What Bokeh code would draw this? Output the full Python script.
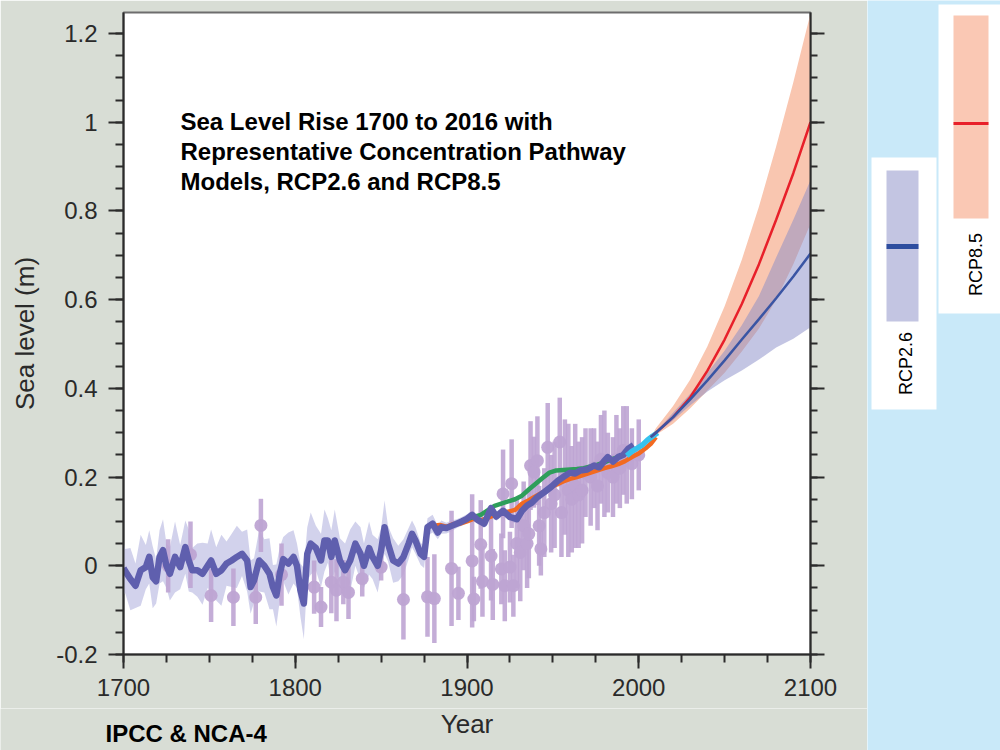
import numpy as np
from bokeh.plotting import figure
from bokeh.layouts import row, column
from bokeh.models import Range1d, LinearAxis, FixedTicker, Label
from bokeh.embed import file_html
from bokeh.resources import INLINE
from bokeh.core.properties import value

# ---------------- data ----------------
x_ticks = [1700, 1800, 1900, 2000, 2100]
y_ticks = [-0.2, 0.0, 0.2, 0.4, 0.6, 0.8, 1.0, 1.2]
y_tick_labels = ["-0.2", "0", "0.2", "0.4", "0.6", "0.8", "1", "1.2"]

recon_years = [1700, 1701, 1704, 1707, 1710, 1713, 1715, 1717, 1719, 1721,
               1723, 1725, 1727, 1730, 1733, 1736, 1738, 1740, 1743, 1746,
               1749, 1751, 1754, 1757, 1760, 1763, 1766, 1769, 1772, 1774,
               1776, 1779, 1782, 1785, 1787, 1789, 1791, 1793, 1796, 1799,
               1801, 1803, 1805, 1807, 1809, 1812, 1815, 1817, 1819, 1821,
               1823, 1826, 1829, 1832, 1835, 1838, 1840, 1843, 1845, 1848,
               1850, 1852, 1854, 1857, 1860, 1863, 1866, 1868, 1870, 1873,
               1875, 1877, 1880, 1883, 1885, 1888, 1891, 1894, 1897, 1900,
               1903, 1906, 1910, 1914, 1917, 1921, 1925, 1929, 1932, 1935,
               1938, 1941, 1945, 1949, 1953, 1956, 1960, 1963, 1966, 1970,
               1974, 1977, 1980, 1982, 1985, 1988, 1991, 1994, 1997]
recon_vals = [-0.005, -0.012, -0.03, -0.045, -0.01, -0.003, 0.02, -0.026, -0.035, 0.02,
              0.035, 0.0, -0.018, 0.02, -0.003, 0.042, 0.012, -0.01, -0.01, -0.018,
              0.0, 0.012, -0.018, -0.01, 0.005, 0.012, 0.02, 0.027, 0.012, -0.048,
              -0.033, 0.012, 0.0, -0.018, -0.048, -0.067, -0.018, 0.015, 0.005, 0.02,
              0.0, -0.055, -0.085, 0.027, 0.05, 0.04, 0.012, 0.057, 0.057, 0.02,
              0.057, 0.012, -0.01, 0.012, 0.05, 0.027, 0.0, 0.04, 0.02, 0.0,
              0.035, 0.087, 0.05, 0.012, 0.005, 0.02, 0.05, 0.072, 0.057, 0.027,
              0.02, 0.087, 0.095, 0.075, 0.087, 0.085, 0.09, 0.095, 0.1, 0.106,
              0.115, 0.104, 0.095, 0.13, 0.111, 0.124, 0.11, 0.105, 0.124, 0.136,
              0.143, 0.155, 0.166, 0.178, 0.192, 0.2, 0.21, 0.208, 0.215, 0.217,
              0.226, 0.222, 0.237, 0.245, 0.235, 0.245, 0.25, 0.264, 0.272]
recon_err = [0.06, 0.05, 0.07, 0.05, 0.08, 0.05, 0.06, 0.07, 0.05, 0.06,
             0.07, 0.05, 0.06, 0.08, 0.05, 0.06, 0.07, 0.05, 0.06, 0.07,
             0.05, 0.07, 0.06, 0.08, 0.05, 0.06, 0.07, 0.05, 0.07, 0.06,
             0.05, 0.07, 0.06, 0.08, 0.05, 0.07, 0.06, 0.05, 0.07, 0.06,
             0.05, 0.06, 0.08, 0.06, 0.07, 0.05, 0.06, 0.07, 0.05, 0.06,
             0.07, 0.05, 0.06, 0.07, 0.05, 0.06, 0.05, 0.06, 0.05, 0.06,
             0.05, 0.06, 0.04, 0.05, 0.04, 0.04, 0.035, 0.03, 0.03, 0.025,
             0.025, 0.02, 0.02, 0.015, 0.015, 0.012, 0.012, 0.01, 0.01, 0.01,
             0.01, 0.01, 0.01, 0.01, 0.01, 0.01, 0.01, 0.01, 0.01, 0.01,
             0.01, 0.01, 0.01, 0.01, 0.01, 0.01, 0.01, 0.01, 0.01, 0.01,
             0.01, 0.01, 0.01, 0.01, 0.01, 0.01, 0.01, 0.01, 0.01]

gauge_years = [1726, 1739, 1751, 1764, 1777, 1780, 1792, 1811, 1815, 1821,
               1824, 1828, 1831, 1839, 1850, 1863, 1877, 1881, 1891, 1895,
               1903, 1904, 1908, 1909, 1914, 1915, 1921, 1920, 1922, 1926,
               1925, 1927, 1929, 1931, 1933, 1935, 1937, 1936, 1939, 1941,
               1942, 1943, 1945, 1947, 1949, 1951, 1954, 1955, 1957, 1959,
               1961, 1963, 1965, 1967, 1969, 1972, 1974, 1976, 1978, 1980,
               1982, 1985, 1987, 1989, 1991, 1993, 1996, 2000]
gauge_vals = [0.0, 0.025, -0.067, -0.071, -0.071, 0.091, -0.02, -0.048, -0.093, -0.037,
              -0.055, -0.037, -0.06, -0.029, -0.003, -0.076, -0.07, -0.074, -0.006, -0.062,
              0.011, -0.075, 0.048, -0.035, 0.022, -0.042, 0.162, -0.007, -0.045, 0.185,
              -0.003, -0.045, 0.05, 0.03, 0.09, 0.05, 0.226, 0.072, 0.211, 0.237,
              0.09, 0.038, 0.12, 0.267, 0.14, 0.16, 0.279, 0.12, 0.2, 0.17,
              0.15, 0.18, 0.16, 0.17, 0.21, 0.2, 0.22, 0.18, 0.24, 0.23,
              0.21, 0.2, 0.24, 0.22, 0.26, 0.25, 0.23, 0.25]
gauge_err = [0.06, 0.075, 0.06, 0.065, 0.06, 0.06, 0.07, 0.06, 0.045, 0.07,
             0.07, 0.05, 0.06, 0.04, 0.03, 0.09, 0.09, 0.1, 0.13, 0.06,
             0.15, 0.05, 0.1, 0.08, 0.1, 0.08, 0.1, 0.08, 0.08, 0.1,
             0.08, 0.07, 0.1, 0.11, 0.1, 0.1, 0.1, 0.1, 0.08, 0.1,
             0.09, 0.06, 0.1, 0.1, 0.11, 0.12, 0.1, 0.1, 0.13, 0.15,
             0.12, 0.14, 0.12, 0.12, 0.1, 0.11, 0.09, 0.1, 0.1, 0.12,
             0.09, 0.09, 0.1, 0.09, 0.1, 0.11, 0.08, 0.08]

green_years = [1900, 1904, 1908, 1912, 1916, 1920, 1924, 1928, 1932, 1936,
               1940, 1944, 1948, 1952, 1956, 1960, 1964, 1968, 1972, 1976,
               1980, 1984, 1988, 1990]
green_vals = [0.105, 0.11, 0.115, 0.125, 0.135, 0.14, 0.145, 0.15, 0.158, 0.172,
              0.185, 0.198, 0.21, 0.215, 0.216, 0.217, 0.218, 0.22, 0.224, 0.228,
              0.233, 0.24, 0.245, 0.248]

orange_years = [1880, 1884, 1888, 1892, 1896, 1900, 1904, 1908, 1912, 1916,
                1920, 1924, 1928, 1932, 1936, 1940, 1944, 1948, 1952, 1956,
                1960, 1964, 1968, 1972, 1976, 1980, 1984, 1988, 1992, 1996,
                2000, 2004, 2007, 2010]
orange_vals = [0.09, 0.092, 0.088, 0.094, 0.095, 0.1, 0.106, 0.102, 0.108, 0.114,
               0.117, 0.122, 0.126, 0.14, 0.148, 0.157, 0.165, 0.175, 0.183, 0.19,
               0.196, 0.2, 0.205, 0.21, 0.215, 0.22, 0.224, 0.229, 0.236, 0.245,
               0.253, 0.265, 0.275, 0.29]

sat_years = [1993, 1996, 1999, 2002, 2005, 2008, 2011]
sat_vals = [0.248, 0.258, 0.265, 0.272, 0.283, 0.292, 0.3]

proj_years = [2007, 2010, 2020, 2030, 2040, 2050, 2060, 2070, 2080, 2090, 2100]
rcp85_mid = [0.29, 0.30, 0.335, 0.38, 0.44, 0.51, 0.59, 0.68, 0.78, 0.885, 1.0]
rcp85_hi = [0.29, 0.31, 0.36, 0.42, 0.495, 0.585, 0.69, 0.81, 0.945, 1.09, 1.245]
rcp85_lo = [0.29, 0.295, 0.32, 0.355, 0.395, 0.435, 0.483, 0.535, 0.60, 0.68, 0.771]
rcp26_mid = [0.29, 0.30, 0.335, 0.375, 0.418, 0.463, 0.51, 0.556, 0.603, 0.652, 0.704]
rcp26_hi = [0.29, 0.303, 0.345, 0.388, 0.435, 0.485, 0.542, 0.608, 0.695, 0.78, 0.869]
rcp26_lo = [0.29, 0.297, 0.328, 0.362, 0.393, 0.418, 0.44, 0.465, 0.492, 0.512, 0.538]

title_lines = ["Sea Level Rise 1700 to 2016 with",
               "Representative Concentration Pathway",
               "Models, RCP2.6 and RCP8.5"]
legend_names = ["RCP2.6", "RCP8.5"]
x_label = "Year"
y_label = "Sea level (m)"
credit = "IPCC & NCA-4"

# ---------------- style ----------------
FONT = "Liberation Sans"
GREY_BG = "#D8DDD5"
LIGHT_BLUE = "#C9E9F9"
AX_COL = "#2b2b2b"
TXT_COL = "#2a2a2a"
RECON_COL = "#5F5FAE"
RECON_BAND = "#CDCDEA"
GAUGE_COL = "#BEA4D3"
GREEN = "#2E9E5A"
ORANGE = "#F26A21"
CYAN = "#36C2EE"
RED = "#E8202A"
BLUE = "#3A55A4"
SALMON = "#F9C6B0"
LAV_BASE = "#878BC7"

MAIN_W, MAIN_H = 867, 708

p = figure(width=MAIN_W, height=MAIN_H, output_backend="svg", toolbar_location=None, tools="",
           title=None,
           x_range=Range1d(1700, 2100), y_range=Range1d(-0.2, 1.2473),
           min_border_left=123, min_border_right=57, min_border_top=12,
           min_border_bottom=MAIN_H - 654, y_axis_label=y_label)
p.frame_align = False
p.background_fill_color = "white"
p.border_fill_color = GREY_BG
p.grid.visible = False
p.outline_line_color = "#6d6d6d"
p.outline_line_width = 2

yticker = FixedTicker(ticks=y_ticks,
                      minor_ticks=[round(-0.2 + 0.05 * i, 3) for i in range(30)])
xticker = FixedTicker(ticks=x_ticks, minor_ticks=list(range(1700, 2101, 25)))


def style_axis(ax):
    ax.axis_line_color = AX_COL
    ax.axis_line_width = 2
    ax.major_tick_line_color = AX_COL
    ax.major_tick_line_width = 2
    ax.minor_tick_line_color = AX_COL
    ax.minor_tick_line_width = 2
    ax.major_tick_in = 0
    ax.minor_tick_in = 0
    ax.major_label_text_font = FONT
    ax.major_label_text_font_size = "24px"
    ax.major_label_text_color = TXT_COL
    ax.axis_label_text_font = FONT
    ax.axis_label_text_font_size = "26px"
    ax.axis_label_text_font_style = "normal"
    ax.axis_label_text_color = TXT_COL


yax = p.yaxis[0]
style_axis(yax)
yax.ticker = yticker
yax.major_label_overrides = {t: l for t, l in zip(y_ticks, y_tick_labels)}
yax.major_tick_out = 15
yax.minor_tick_out = 8
yax.major_label_standoff = 11
yax.axis_label_standoff = 13

xax = p.xaxis[0]
style_axis(xax)
xax.ticker = xticker
xax.major_tick_out = 14
xax.minor_tick_out = 8
xax.major_label_standoff = 10

rax = LinearAxis(ticker=yticker)
style_axis(rax)
rax.major_tick_out = 14
rax.minor_tick_out = 7
rax.major_label_text_color = None
rax.major_label_standoff = 0
p.add_layout(rax, "right")

# reconstruction uncertainty band
r_y = np.array(recon_vals)
r_e = np.array(recon_err)
p.varea(x=recon_years, y1=r_y - r_e, y2=r_y + r_e, fill_color=RECON_BAND, fill_alpha=0.9)

# tide gauge points with error bars
g_y = np.array(gauge_vals)
g_e = np.array(gauge_err)
p.segment(x0=gauge_years, y0=g_y - g_e, x1=gauge_years, y1=g_y + g_e,
          line_color=GAUGE_COL, line_width=4.5, line_alpha=0.9)
p.scatter(x=gauge_years, y=gauge_vals, size=13, marker="circle",
          fill_color=GAUGE_COL, line_color=None, fill_alpha=0.95)

# observational series
p.line(orange_years, orange_vals, line_color=ORANGE, line_width=4.5, line_join="round")
p.line(green_years, green_vals, line_color=GREEN, line_width=4.5, line_join="round")
p.line(recon_years, recon_vals, line_color=RECON_COL, line_width=6.5, line_join="round")

# projections
p.varea(x=proj_years, y1=rcp85_lo, y2=rcp85_hi, fill_color=SALMON, fill_alpha=1.0)
p.varea(x=proj_years, y1=rcp26_lo, y2=rcp26_hi, fill_color=LAV_BASE, fill_alpha=0.5)
p.line(sat_years, sat_vals, line_color=CYAN, line_width=5.5, line_join="round")
p.line(proj_years, rcp85_mid, line_color=RED, line_width=2.5)
p.line(proj_years, rcp26_mid, line_color=BLUE, line_width=2.5)

# title text block inside the plot
for i, t in enumerate(title_lines):
    p.add_layout(Label(x=1700, y=1.0, x_offset=57, y_offset=1 - 30 * i, text=t,
                       text_font=FONT, text_font_style="bold", text_font_size="24px",
                       text_color="black", text_align="left", text_baseline="alphabetic"))

# ---------------- bottom strip (x label + credit) ----------------
STRIP_H = 750 - MAIN_H
st = figure(width=MAIN_W, height=STRIP_H, output_backend="svg", toolbar_location=None, tools="",
            title=None,
            x_range=Range1d(0, MAIN_W), y_range=Range1d(0, STRIP_H),
            x_axis_location=None, y_axis_location=None,
            min_border_left=0, min_border_right=0, min_border_top=0, min_border_bottom=0)
st.frame_align = False
st.background_fill_color = GREY_BG
st.border_fill_color = GREY_BG
st.outline_line_color = None
st.grid.visible = False
# vertical centres of the two text lines, measured from the bottom of the strip
st.text(x=[466.5], y=[750 - 723], text=[x_label], text_font=value(FONT),
        text_font_size="26px", text_color=TXT_COL, text_align="center",
        text_baseline="middle")
st.text(x=[105], y=[750 - 733], text=[credit], text_font=value(FONT),
        text_font_style="bold", text_font_size="24px", text_color="black",
        text_align="left", text_baseline="middle")

# ---------------- side legend panel ----------------
H = 750
s = figure(width=133, height=H, output_backend="svg", toolbar_location=None, tools="",
           title=None,
           x_range=Range1d(0, 133), y_range=Range1d(0, H),
           x_axis_location=None, y_axis_location=None,
           min_border_left=0, min_border_right=0, min_border_top=0, min_border_bottom=0)
s.frame_align = False
s.background_fill_color = LIGHT_BLUE
s.border_fill_color = LIGHT_BLUE
s.outline_line_color = None
s.grid.visible = False

# white panels (pixel layout, y measured from top)
s.quad(left=[4, 71], right=[69, 140], top=[H - 157, H - 4], bottom=[H - 409, H - 313],
       fill_color="white", line_color=None)
s.quad(left=[19], right=[51], top=[H - 170], bottom=[H - 321], fill_color="#C3C5E2", line_color=None)
s.quad(left=[86], right=[121], top=[H - 15], bottom=[H - 218], fill_color="#FAC8B4", line_color=None)
s.segment(x0=[19], y0=[H - 246], x1=[51], y1=[H - 246], line_color="#2E4E9F", line_width=5)
s.segment(x0=[86], y0=[H - 123], x1=[121], y1=[H - 123], line_color=RED, line_width=3)
s.text(x=[38, 108], y=[H - 363, H - 264], text=legend_names, angle=np.pi / 2,
       text_font=value(FONT), text_font_size="18px", text_color="black",
       text_align="center", text_baseline="middle")

layout = row(column(p, st, spacing=0), s, spacing=0)
open("out.html", "w").write(file_html(layout, INLINE))
